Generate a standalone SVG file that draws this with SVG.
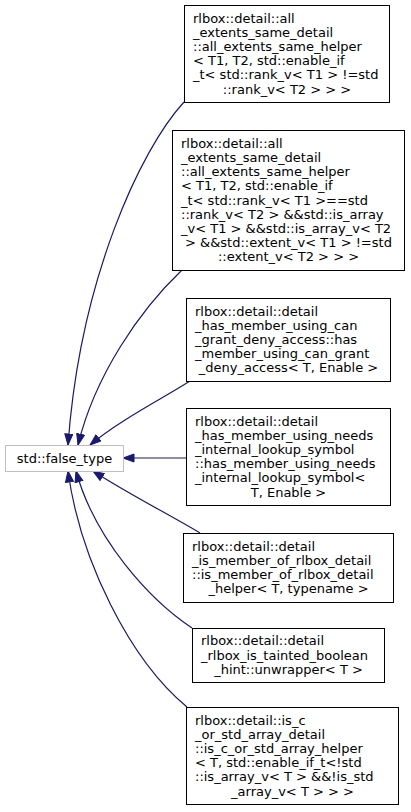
<svg xmlns="http://www.w3.org/2000/svg" width="411" height="812" viewBox="0 0 411 812">
<style>
  .box{fill:#fff;stroke:#000;stroke-width:1}
  .root{fill:#fff;stroke:#bfbfbf;stroke-width:1}
  text{font-family:"DejaVu Sans","Liberation Sans",sans-serif;font-size:13px;fill:#000}
  .c{text-anchor:middle}
  .edge{fill:none;stroke:#191970;stroke-width:1.2}
</style>
<defs>
  <marker id="ah" markerUnits="userSpaceOnUse" markerWidth="13" markerHeight="10" refX="11.5" refY="4.5" orient="auto">
    <path d="M0.5,0.5 L11.5,4.5 L0.5,8.5 Z" fill="#191970" stroke="#191970" stroke-width="1"/>
  </marker>
</defs>
<rect width="411" height="812" fill="#fff"/>
<g id="edges">
  <path class="edge" d="M184,102 C140,150 80,280 68,445" marker-end="url(#ah)"/>
  <path class="edge" d="M182,270 C140,310 95,375 78,445" marker-end="url(#ah)"/>
  <path class="edge" d="M190,381 C160,400 120,420 90,445" marker-end="url(#ah)"/>
  <path class="edge" d="M186,458 L123,458" marker-end="url(#ah)"/>
  <path class="edge" d="M200,533 C170,515 125,492 93,471" marker-end="url(#ah)"/>
  <path class="edge" d="M192,628 C150,600 95,540 76,471" marker-end="url(#ah)"/>
  <path class="edge" d="M187,707 C130,660 80,560 68,471" marker-end="url(#ah)"/>
</g>
<g id="false_type">
  <rect class="root" x="5.5" y="445.5" width="118" height="26"/>
  <text class="c" x="64.5" y="462.5">std::false_type</text>
</g>
<g id="node1">
  <rect class="box" x="184.5" y="5.5" width="205" height="97"/>
  <text>
    <tspan x="193" y="22.5">rlbox::detail::all</tspan>
    <tspan x="193" y="36.7">_extents_same_detail</tspan>
    <tspan x="193" y="50.9">::all_extents_same_helper</tspan>
    <tspan x="193" y="65.1">&lt; T1, T2, std::enable_if</tspan>
    <tspan x="193" y="79.3">_t&lt; std::rank_v&lt; T1 &gt; !=std</tspan>
    <tspan class="c" x="287" y="93.5">::rank_v&lt; T2 &gt; &gt; &gt;</tspan>
  </text>
</g>
<g id="node2">
  <rect class="box" x="172.5" y="130.5" width="232" height="140"/>
  <text>
    <tspan x="181" y="147.7">rlbox::detail::all</tspan>
    <tspan x="181" y="161.9">_extents_same_detail</tspan>
    <tspan x="181" y="176.1">::all_extents_same_helper</tspan>
    <tspan x="181" y="190.3">&lt; T1, T2, std::enable_if</tspan>
    <tspan x="181" y="204.5">_t&lt; std::rank_v&lt; T1 &gt;==std</tspan>
    <tspan x="181" y="218.7">::rank_v&lt; T2 &gt; &amp;&amp;std::is_array</tspan>
    <tspan x="181" y="232.9">_v&lt; T1 &gt; &amp;&amp;std::is_array_v&lt; T2</tspan>
    <tspan x="185" y="247.1">&gt; &amp;&amp;std::extent_v&lt; T1 &gt; !=std</tspan>
    <tspan class="c" x="288.5" y="261.3">::extent_v&lt; T2 &gt; &gt; &gt;</tspan>
  </text>
</g>
<g id="node3">
  <rect class="box" x="186.5" y="298.5" width="204" height="83"/>
  <text>
    <tspan x="195" y="315.6">rlbox::detail::detail</tspan>
    <tspan x="195" y="329.8">_has_member_using_can</tspan>
    <tspan x="195" y="344">_grant_deny_access::has</tspan>
    <tspan x="195" y="358.2">_member_using_can_grant</tspan>
    <tspan class="c" x="288.5" y="372.4">_deny_access&lt; T, Enable &gt;</tspan>
  </text>
</g>
<g id="node4">
  <rect class="box" x="186.5" y="408.5" width="204" height="97"/>
  <text>
    <tspan x="195" y="425.5">rlbox::detail::detail</tspan>
    <tspan x="195" y="439.7">_has_member_using_needs</tspan>
    <tspan x="195" y="453.9">_internal_lookup_symbol</tspan>
    <tspan x="195" y="468.1">::has_member_using_needs</tspan>
    <tspan x="195" y="482.3">_internal_lookup_symbol&lt;</tspan>
    <tspan class="c" x="288.5" y="496.5">T, Enable &gt;</tspan>
  </text>
</g>
<g id="node5">
  <rect class="box" x="183.5" y="533.5" width="210" height="69"/>
  <text>
    <tspan x="192" y="550.7">rlbox::detail::detail</tspan>
    <tspan x="192" y="564.9">_is_member_of_rlbox_detail</tspan>
    <tspan x="192" y="579.1">::is_member_of_rlbox_detail</tspan>
    <tspan class="c" x="288.5" y="593.3">_helper&lt; T, typename &gt;</tspan>
  </text>
</g>
<g id="node6">
  <rect class="box" x="192.5" y="628.5" width="192" height="54"/>
  <text>
    <tspan x="201" y="645.3">rlbox::detail::detail</tspan>
    <tspan x="201" y="659.5">_rlbox_is_tainted_boolean</tspan>
    <tspan class="c" x="288.5" y="673.7">_hint::unwrapper&lt; T &gt;</tspan>
  </text>
</g>
<g id="node7">
  <rect class="box" x="186.5" y="707.5" width="212" height="97"/>
  <text>
    <tspan x="195" y="724.5">rlbox::detail::is_c</tspan>
    <tspan x="195" y="738.7">_or_std_array_detail</tspan>
    <tspan x="195" y="752.9">::is_c_or_std_array_helper</tspan>
    <tspan x="195" y="767.1">&lt; T, std::enable_if_t&lt;!std</tspan>
    <tspan x="195" y="781.3">::is_array_v&lt; T &gt; &amp;&amp;!is_std</tspan>
    <tspan class="c" x="292.5" y="795.5">_array_v&lt; T &gt; &gt; &gt;</tspan>
  </text>
</g>
</svg>
